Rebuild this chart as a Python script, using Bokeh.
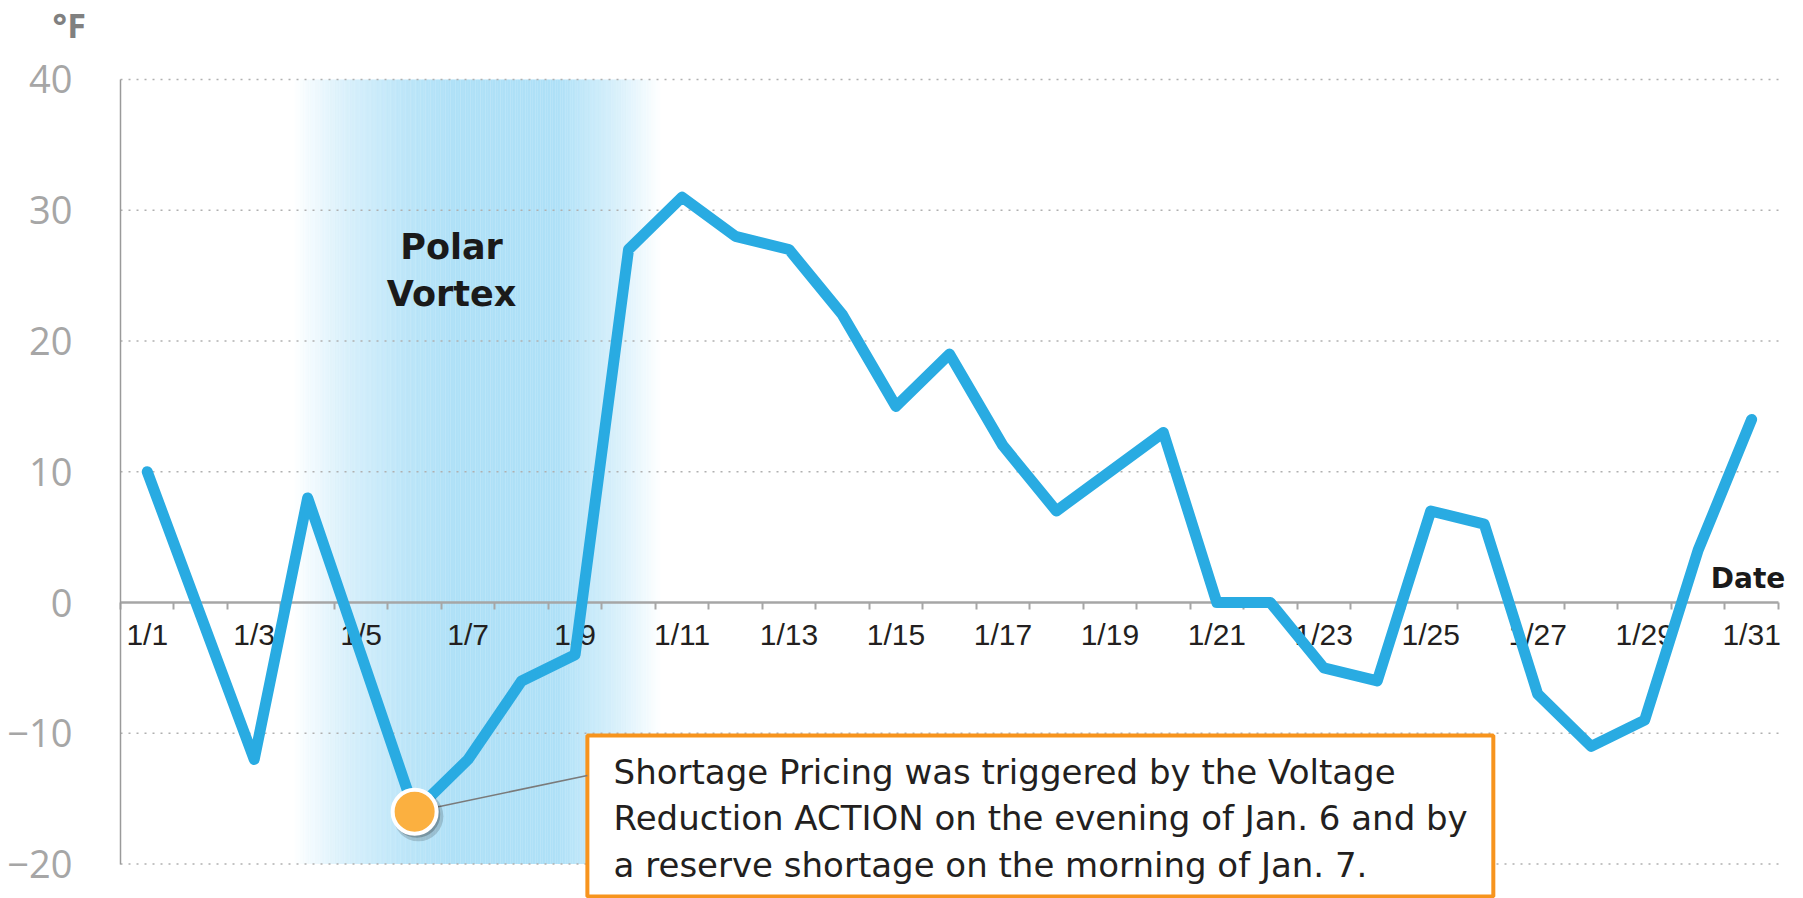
import numpy as np
from bokeh.plotting import figure
from bokeh.models import Range1d, FixedTicker, Label, ColumnDataSource
from bokeh.embed import file_html
from bokeh.resources import INLINE

# ---------------- data ----------------
dates = [f"1/{d}" for d in range(1, 32)]
temps = [10, -1, -12, 8, -4, -16, -12, -6, -4, 27, 31, 28, 27, 22, 15, 19,
         12, 7, 10, 13, 0, 0, -5, -6, 7, 6, -7, -11, -9, 4, 14]
y_ticks = [-20, -10, 0, 10, 20, 30, 40]
highlight_date = "1/6"
band_label = ["Polar", "Vortex"]
note_lines = [
    "Shortage Pricing was triggered by the Voltage",
    "Reduction ACTION on the evening of Jan. 6 and by",
    "a reserve shortage on the morning of Jan. 7.",
]

# ---------------- layout constants (data units) ----------------
x_view = (-1.744, 31.970)
y_view = (-22.638, 46.042)
grid_x_end = 31.54
band_stops_x = [3.735, 4.745, 5.79, 6.73, 8.67, 9.15, 9.85, 10.6]
band_stops_a = [0.0, 0.45, 0.80, 1.0, 1.0, 0.75, 0.40, 0.0]
box_left, box_right, box_top, box_bottom = 9.23, 26.17, -10.17, -22.49
connector_y = -13.23

xs = np.arange(1, len(dates) + 1)
hi = dates.index(highlight_date)
hx, hy = xs[hi], temps[hi]

p = figure(width=1803, height=898,
           x_range=Range1d(*x_view), y_range=Range1d(*y_view),
           output_backend="svg", toolbar_location=None,
           min_border_left=0, min_border_right=0,
           min_border_top=0, min_border_bottom=0)
p.outline_line_color = None
p.background_fill_color = "white"
p.border_fill_color = "white"
p.xgrid.visible = False
p.ygrid.visible = False

# y axis (drawn at the left edge of the date range)
yax = p.yaxis[0]
yax.fixed_location = xs[0] - 0.5
yax.ticker = FixedTicker(ticks=y_ticks)
yax.bounds = (y_ticks[0], y_ticks[-1])
yax.axis_line_color = "#9a9a9a"
yax.axis_line_width = 1.5
yax.major_tick_out = 0
yax.major_tick_in = 0
yax.minor_tick_out = 0
yax.minor_tick_in = 0
yax.major_label_text_font = "Open Sans"
yax.major_label_text_font_size = "38px"
yax.major_label_text_color = "#a6a6a6"
yax.major_label_standoff = 48

# x axis (crossing at 0)
xax = p.xaxis[0]
xax.fixed_location = 0
xax.bounds = (xs[0] - 0.5, xs[-1] + 0.5)
label_idx = list(range(0, len(dates), 2))
xax.ticker = FixedTicker(ticks=[int(xs[i]) for i in label_idx],
                         minor_ticks=[x - 0.5 for x in xs] + [xs[-1] + 0.5])
xax.major_label_overrides = {int(xs[i]): dates[i] for i in label_idx}
xax.major_tick_out = 0
xax.major_tick_in = 0
xax.minor_tick_out = 7
xax.minor_tick_in = 0
xax.minor_tick_line_color = "#a6a6a6"
xax.minor_tick_line_width = 2
xax.axis_line_color = "#a6a6a6"
xax.axis_line_width = 2.5
xax.major_label_text_font = "Liberation Sans"
xax.major_label_text_font_size = "30px"
xax.major_label_text_color = "#231f20"
xax.major_label_standoff = 8

# dotted horizontal grid lines
grid_vals = [t for t in y_ticks if t != 0]
p.segment(x0=[xs[0] - 0.5] * len(grid_vals), x1=[grid_x_end] * len(grid_vals),
          y0=grid_vals, y1=grid_vals, line_color="#b0b0b0",
          line_dash="2 6", line_width=1.5, level="underlay")

# polar vortex band (gradient built from thin strips)
n = 220
edges = np.linspace(band_stops_x[0], band_stops_x[-1], n + 1)
mids = 0.5 * (edges[:-1] + edges[1:])
alphas = np.interp(mids, band_stops_x, band_stops_a)
band_src = ColumnDataSource(dict(left=edges[:-1], right=edges[1:] + 0.004,
                                 alpha=alphas))
p.quad(left="left", right="right", top=y_ticks[-1], bottom=y_ticks[0],
       source=band_src, fill_color="#aee0f7", fill_alpha="alpha",
       line_color=None, level="image")

# annotation box
p.quad(left=box_left, right=box_right, top=box_top, bottom=box_bottom,
       fill_color="white", line_color="#f7941d", line_width=4)

# temperature line
p.line(xs, temps, line_color="#29abe2", line_width=11,
       line_join="round", line_cap="round", level="overlay")

# connector + highlight dot
p.line([hx, box_left], [hy, connector_y], line_color="#7a7a7a",
       line_width=1.5, level="overlay")
p.scatter([hx + 0.07], [hy - 0.35], size=50, fill_color="#000000",
          fill_alpha=0.16, line_color=None, level="overlay")
p.scatter([hx + 0.04], [hy - 0.2], size=47, fill_color="#000000",
          fill_alpha=0.22, line_color=None, level="overlay")
p.scatter([hx], [hy], size=44, fill_color="#fbb040", line_color="white",
          line_width=4, level="overlay")

# texts
for txt, yv in zip(band_label, [27.2, 23.6]):
    p.add_layout(Label(x=6.69, y=yv, text=txt, text_align="center",
                       text_baseline="alphabetic", text_font="DejaVu Sans",
                       text_font_style="bold", text_font_size="35px",
                       text_color="#1a1a1a"))

for txt, yv in zip(note_lines, [-12.95, -16.47, -20.07]):
    p.add_layout(Label(x=9.72, y=yv, text=txt, text_align="left",
                       text_baseline="alphabetic", text_font="DejaVu Sans",
                       text_font_size="34px", text_color="#231f20"))

p.add_layout(Label(x=31.63, y=1.8, text="Date", text_align="right",
                   text_baseline="alphabetic", text_font="DejaVu Sans",
                   text_font_style="bold", text_font_size="28px",
                   text_color="#1a1a1a"))
p.add_layout(Label(x=-0.77, y=44.2, text="°F", text_align="left",
                   text_baseline="alphabetic", text_font="Open Sans",
                   text_font_style="bold", text_font_size="34px",
                   text_color="#808080"))

open("out.html", "w").write(file_html(p, INLINE))
